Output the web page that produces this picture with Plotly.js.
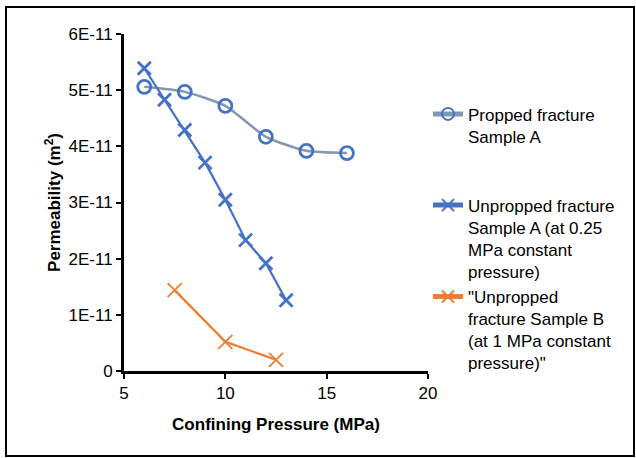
<!DOCTYPE html>
<html>
<head>
<meta charset="utf-8">
<script src="https://cdn.plot.ly/plotly-3.0.1.min.js"></script>
<style>
html,body{margin:0;padding:0;background:#fff;}
#chart{width:636px;height:458px;}
</style>
</head>
<body>
<div id="chart"></div>
<script>
// Propped fracture Sample A
const proppedX = [6, 8, 10, 12, 14, 16];
const proppedY = [5.06e-11, 4.97e-11, 4.72e-11, 4.17e-11, 3.92e-11, 3.88e-11];
// Unpropped fracture Sample A (0.25 MPa)
const unpropAX = [6, 7, 8, 9, 10, 11, 12, 13];
const unpropAY = [5.39e-11, 4.83e-11, 4.29e-11, 3.71e-11, 3.05e-11, 2.33e-11, 1.92e-11, 1.26e-11];
// Unpropped fracture Sample B (1 MPa)
const unpropBX = [7.5, 10, 12.5];
const unpropBY = [1.44e-11, 0.52e-11, 0.2e-11];

const names = [
  "Propped fracture<br>Sample A",
  "Unpropped fracture<br>Sample A (at 0.25<br>MPa constant<br>pressure)",
  "\"Unpropped<br>fracture Sample B<br>(at 1 MPa constant<br>pressure)\""
];
const xTickVals = [5, 10, 15, 20];
const xTickText = ["5", "10", "15", "20"];
const yTickVals = [0, 1e-11, 2e-11, 3e-11, 4e-11, 5e-11, 6e-11];
const yTickText = ["0", "1E-11", "2E-11", "3E-11", "4E-11", "5E-11", "6E-11"];

const font = "Liberation Sans, Arial, sans-serif";

const traces = [
  {
    x: proppedX, y: proppedY, name: names[0], legendgroup: "g1", type: "scatter", mode: "lines+markers",
    line: {color: "#8497B0", width: 2.5, shape: "spline", smoothing: 0.6},
    marker: {symbol: "circle-open", size: 13, color: "#4472C4", line: {color: "#4472C4", width: 2.8}}
  },
  {
    x: unpropAX, y: unpropAY, name: names[1], legendgroup: "g2", type: "scatter", mode: "lines+markers",
    line: {color: "#4472C4", width: 2.25},
    marker: {symbol: "x-thin", size: 13, color: "#4472C4", line: {color: "#4472C4", width: 2.8}}
  },
  {
    x: unpropBX, y: unpropBY, name: names[2], legendgroup: "g2", type: "scatter", mode: "lines+markers",
    line: {color: "#ED7D31", width: 2.25},
    marker: {symbol: "x-thin", size: 14, color: "#ED7D31", line: {color: "#ED7D31", width: 1.8}}
  }
];

const layout = {
  width: 636, height: 458,
  margin: {l: 124, r: 208, t: 34, b: 87},
  paper_bgcolor: "#fff", plot_bgcolor: "#fff",
  font: {family: font, size: 17, color: "#000"},
  showlegend: true,
  legend: {
    x: 1.0, xanchor: "left", y: 0.815, yanchor: "top",
    valign: "top", font: {family: font, size: 17, color: "#000"},
    traceorder: "grouped", tracegroupgap: 44,
    itemsizing: "constant", bgcolor: "rgba(0,0,0,0)"
  },
  xaxis: {
    range: [5, 20], tickvals: xTickVals, ticktext: xTickText,
    showgrid: false, zeroline: false, showline: true, linecolor: "#000", linewidth: 3,
    ticks: "outside", ticklen: 5, tickwidth: 2, tickcolor: "#000",
    tickfont: {family: font, size: 17, color: "#000"},
    title: {text: "<b>Confining Pressure (MPa)</b>", font: {family: font, size: 17, color: "#000"}, standoff: 16}
  },
  yaxis: {
    range: [0, 6e-11], tickvals: yTickVals, ticktext: yTickText,
    showgrid: false, zeroline: false, showline: true, linecolor: "#000", linewidth: 3,
    ticks: "outside", ticklen: 5, tickwidth: 2, tickcolor: "#000",
    tickfont: {family: font, size: 17, color: "#000"},
    title: {text: "<b>Permeability (m<sup>2</sup>)</b>", font: {family: font, size: 17, color: "#000"}, standoff: 4}
  },
  shapes: [{
    type: "rect", xref: "paper", yref: "paper",
    x0: (6 - 124) / 304, x1: (634 - 124) / 304,
    y0: (371 - 456) / 337, y1: (371 - 7) / 337,
    line: {color: "#000", width: 2}, fillcolor: "rgba(0,0,0,0)", layer: "below"
  }]
};

Plotly.newPlot("chart", traces, layout, {displayModeBar: false, staticPlot: true});
</script>
</body>
</html>
